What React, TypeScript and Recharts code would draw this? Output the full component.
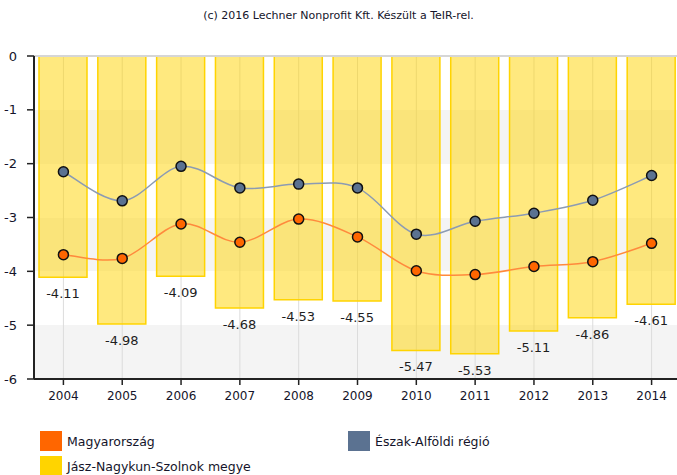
import React from "react";
import {
  Bar,
  CartesianGrid,
  ComposedChart,
  LabelList,
  Line,
  ReferenceLine,
  XAxis,
  YAxis,
} from "recharts";

const years = ["2004", "2005", "2006", "2007", "2008", "2009", "2010", "2011", "2012", "2013", "2014"];
const megye = [-4.11, -4.98, -4.09, -4.68, -4.53, -4.55, -5.47, -5.53, -5.11, -4.86, -4.61];
const orszag = [-3.69, -3.76, -3.12, -3.46, -3.03, -3.36, -3.99, -4.06, -3.91, -3.82, -3.48];
const regio = [-2.15, -2.69, -2.05, -2.45, -2.38, -2.45, -3.31, -3.07, -2.92, -2.68, -2.22];
const yTicks = [0, -1, -2, -3, -4, -5, -6];

const data = years.map((year, i) => ({
  year,
  megye: megye[i],
  orszag: orszag[i],
  regio: regio[i],
}));

const FONT = "'DejaVu Sans', Verdana, sans-serif";
const TEXT = "#14142a";

// catmull-rom style smoothing, like the original chart
function smoothCurve(context: any) {
  let pts: number[][] = [];
  return {
    areaStart() {},
    areaEnd() {},
    lineStart() {
      pts = [];
    },
    point(x: number, y: number) {
      pts.push([+x, +y]);
    },
    lineEnd() {
      const n = pts.length;
      if (!n) return;
      context.moveTo(pts[0][0], pts[0][1]);
      for (let i = 0; i < n - 1; i++) {
        const p0 = pts[i - 1] || pts[i];
        const p1 = pts[i];
        const p2 = pts[i + 1];
        const p3 = pts[i + 2] || p2;
        context.bezierCurveTo(
          p1[0] + (p2[0] - p0[0]) / 6,
          p1[1] + (p2[1] - p0[1]) / 6,
          p2[0] - (p3[0] - p1[0]) / 6,
          p2[1] - (p3[1] - p1[1]) / 6,
          p2[0],
          p2[1]
        );
      }
    },
  };
}

function BarValue(props: any) {
  const vb = props.viewBox || props;
  const { x, y, width, height } = vb;
  const bottom = Math.max(y, y + height);
  return (
    <text
      x={x + width / 2}
      y={bottom + 21}
      textAnchor="middle"
      fontFamily={FONT}
      fontSize={13}
      fill="#1e1e1e"
    >
      {props.value}
    </text>
  );
}

function LegendItem({ color, label, left, top }: { color: string; label: string; left: number; top: number }) {
  return (
    <div style={{ position: "absolute", left, top, display: "flex", alignItems: "center" }}>
      <div style={{ width: 22, height: 20, background: color }} />
      <span style={{ marginLeft: 5, fontFamily: FONT, fontSize: 12.5, color: TEXT }}>{label}</span>
    </div>
  );
}

export default function App() {
  return (
    <div
      style={{
        position: "absolute",
        left: 0,
        top: 0,
        width: 677,
        height: 475,
        overflow: "hidden",
        background: "#fff",
      }}
    >
      <div
        style={{
          position: "absolute",
          left: 0,
          top: 9,
          width: 677,
          textAlign: "center",
          fontFamily: FONT,
          fontSize: 11,
          color: TEXT,
        }}
      >
        (c) 2016 Lechner Nonprofit Kft. Készült a TeIR-rel.
      </div>
      <ComposedChart
        width={682}
        height={420}
        data={data}
        margin={{ top: 56, right: 1, left: 0, bottom: 11 }}
      >
        <CartesianGrid
          horizontal={() => <g />}
          horizontalFill={["#ffffff", "#f4f4f4"]}
          stroke="#dcdcdc"
          strokeWidth={1}
        />
        <XAxis
          dataKey="year"
          height={30}
          axisLine={{ stroke: "#222", strokeWidth: 2 }}
          tickLine={{ stroke: "#222", strokeWidth: 1.5 }}
          tickSize={6}
          tickMargin={6}
          tick={{ fontFamily: FONT, fontSize: 12, fill: TEXT }}
        />
        <YAxis
          width={34}
          domain={[-6, 0]}
          ticks={yTicks}
          interval={0}
          axisLine={{ stroke: "#222", strokeWidth: 2 }}
          tickLine={{ stroke: "#222", strokeWidth: 1.5 }}
          tickSize={7}
          tickMargin={10}
          tick={{ fontFamily: FONT, fontSize: 13, fill: TEXT }}
        />
        <ReferenceLine y={0} stroke="#d6d6d6" strokeWidth={2} />
        <Bar
          dataKey="megye"
          barSize={48}
          fill="#ffd400"
          fillOpacity={0.5}
          stroke="#ffd400"
          strokeWidth={1.5}
          isAnimationActive={false}
        >
          <LabelList dataKey="megye" content={BarValue} />
        </Bar>
        <Line
          dataKey="orszag"
          type={smoothCurve as any}
          stroke="#ff8a3d"
          strokeWidth={1.5}
          dot={{ r: 5, fill: "#ff6600", stroke: "#111", strokeWidth: 1.5 }}
          activeDot={false}
          isAnimationActive={false}
        />
        <Line
          dataKey="regio"
          type={smoothCurve as any}
          stroke="#8c9bb3"
          strokeWidth={1.5}
          dot={{ r: 5, fill: "#5b7291", stroke: "#111", strokeWidth: 1.5 }}
          activeDot={false}
          isAnimationActive={false}
        />
      </ComposedChart>
      <LegendItem color="#ff6600" label="Magyarország" left={40} top={431} />
      <LegendItem color="#5b7291" label="Észak-Alföldi régió" left={348} top={431} />
      <LegendItem color="#ffd400" label="Jász-Nagykun-Szolnok megye" left={40} top={456} />
    </div>
  );
}
